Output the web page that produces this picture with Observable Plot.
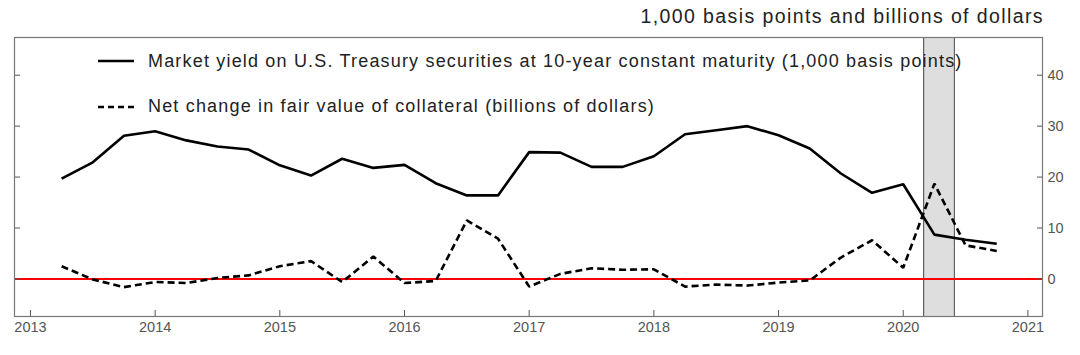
<!DOCTYPE html>
<html>
<head>
<meta charset="utf-8">
<script src="https://cdn.jsdelivr.net/npm/d3@7"></script>
<script src="https://cdn.jsdelivr.net/npm/@observablehq/plot@0.6"></script>
<style>
  html, body { margin: 0; padding: 0; background: #fff; }
  #wrap { position: relative; width: 1080px; height: 355px; overflow: hidden; font-family: "Liberation Sans", Arial, Helvetica, sans-serif; }
  #chart { position: absolute; left: 0; top: 0; }
  #title { position: absolute; right: 36px; top: 5px; font-size: 19.5px; letter-spacing: 1.4px; color: #222; white-space: nowrap; }
  .leg { position: absolute; left: 98px; display: flex; align-items: center; font-size: 18px; letter-spacing: 1.18px; color: #222; white-space: nowrap; }
  .leg svg { margin-right: 14px; }
</style>
</head>
<body>
<div id="wrap">
  <div id="chart"></div>
  <div id="title">1,000 basis points and billions of dollars</div>
  <div class="leg" style="top:51px"><svg width="36" height="20"><line x1="0" x2="36" y1="9" y2="9" stroke="#000" stroke-width="2.5"/></svg><span>Market yield on U.S. Treasury securities at 10-year constant maturity (1,000 basis points)</span></div>
  <div class="leg" style="top:96px"><svg width="36" height="20"><line x1="0" x2="36" y1="10" y2="10" stroke="#000" stroke-width="2.5" stroke-dasharray="6,4"/></svg><span>Net change in fair value of collateral (billions of dollars)</span></div>
</div>
<script>
// Quarterly observations (decimal years)
const quarters = [
  2013.25, 2013.5, 2013.75, 2014.0, 2014.25, 2014.5, 2014.75,
  2015.0, 2015.25, 2015.5, 2015.75, 2016.0, 2016.25, 2016.5, 2016.75,
  2017.0, 2017.25, 2017.5, 2017.75, 2018.0, 2018.25, 2018.5, 2018.75,
  2019.0, 2019.25, 2019.5, 2019.75, 2020.0, 2020.25, 2020.5, 2020.75
];
// Market yield on 10-year Treasuries (1,000 basis points)
const yieldValues = [
  19.7, 22.9, 28.1, 29.0, 27.2, 26.0, 25.4,
  22.3, 20.3, 23.6, 21.8, 22.4, 18.8, 16.4, 16.4,
  24.9, 24.8, 22.0, 22.0, 24.1, 28.4, 29.2, 30.0,
  28.2, 25.6, 20.7, 16.9, 18.6, 8.7, 7.7, 6.9
];
// Net change in fair value of collateral (billions of dollars)
const collateralValues = [
  2.5, -0.1, -1.6, -0.6, -0.8, 0.2, 0.7,
  2.5, 3.5, -0.6, 4.4, -0.8, -0.4, 11.5, 7.9,
  -1.5, 1.0, 2.1, 1.8, 1.9, -1.5, -1.1, -1.3,
  -0.7, -0.3, 4.2, 7.6, 2.2, 18.7, 6.6, 5.5
];
// Shaded period
const shadeStart = [2020.164];
const shadeEnd = [2020.41];
// Axis ticks
const xTicks = [2013, 2014, 2015, 2016, 2017, 2018, 2019, 2020, 2021];
const yTicks = [0, 10, 20, 30, 40];

const rows = quarters.map((q, i) => ({q, yld: yieldValues[i], col: collateralValues[i]}));
const shade = shadeStart.map((s, i) => ({x1: s, x2: shadeEnd[i]}));

const chart = Plot.plot({
  width: 1080,
  height: 355,
  marginLeft: 14,
  marginRight: 38,
  marginTop: 37,
  marginBottom: 39,
  style: {fontFamily: '"Liberation Sans", Arial, Helvetica, sans-serif', fontSize: "14px", color: "#555", background: "transparent"},
  x: {domain: [2012.872, 2021.117]},
  y: {domain: [-7.37, 47.4]},
  marks: [
    Plot.rect(shade, {x1: "x1", x2: "x2", fill: "#dedede"}),
    Plot.ruleX(shade.flatMap(d => [d.x1, d.x2]), {stroke: "#444", strokeWidth: 1}),
    Plot.ruleY([0], {stroke: "#ff0000", strokeWidth: 2}),
    Plot.line(rows, {x: "q", y: "yld", stroke: "#000", strokeWidth: 2.6, strokeLinejoin: "miter", strokeLinecap: "butt"}),
    Plot.line(rows, {x: "q", y: "col", stroke: "#000", strokeWidth: 2.6, strokeDasharray: "7,4", strokeLinejoin: "miter", strokeLinecap: "butt"}),
    Plot.axisX({ticks: xTicks, tickFormat: d => String(d), tickSize: -6, tickPadding: 11, fontSize: 14.5, stroke: "#555", fill: "#555", label: null}),
    Plot.axisY({anchor: "left", ticks: yTicks, tickSize: -6, tickFormat: () => "", stroke: "#555", label: null}),
    Plot.axisY({anchor: "right", ticks: yTicks, tickSize: -6, tickPadding: 11, fontSize: 14.5, stroke: "#555", fill: "#555", label: null}),
    Plot.frame({stroke: "#777", strokeWidth: 1.2})
  ]
});
document.getElementById("chart").appendChild(chart);
</script>
</body>
</html>
